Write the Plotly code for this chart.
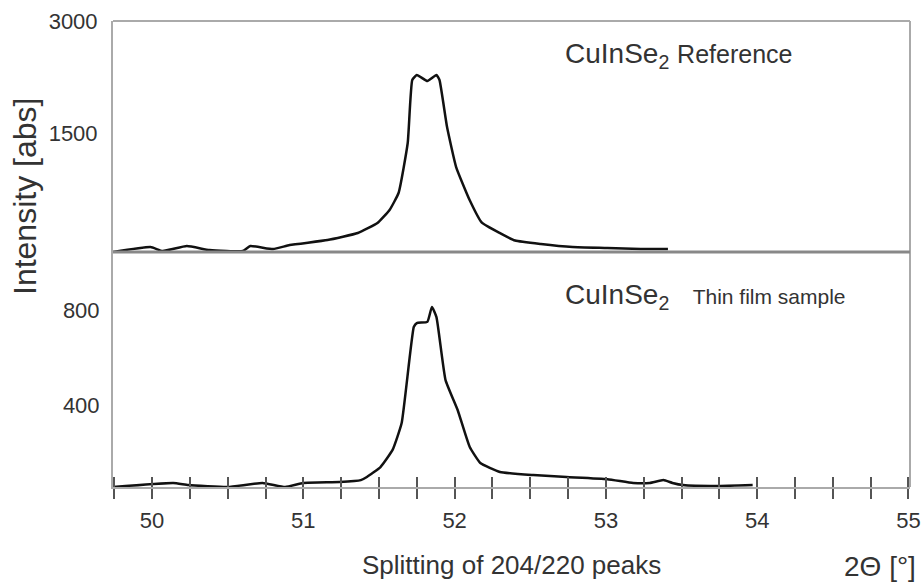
import plotly.graph_objects as go

# ---- data ----
ref_two_theta = [49.74, 49.99, 50.07, 50.23, 50.38, 50.60, 50.65, 50.80, 50.91, 51.16, 51.36,
                 51.49, 51.57, 51.63, 51.69, 51.72, 51.75, 51.82, 51.88, 51.90, 51.95, 52.01,
                 52.10, 52.18, 52.30, 52.40, 52.57, 52.78, 53.01, 53.23, 53.41]
ref_intensity = [-94, -27, -80, -13, -67, -80, -13, -54, 0, 67, 161,
                 295, 469, 700, 1366, 2210, 2277, 2196, 2277, 2210, 1580, 1045,
                 600, 300, 160, 60, 13, -27, -40, -54, -54]

film_two_theta = [49.74, 50.14, 50.24, 50.50, 50.73, 50.88, 51.00, 51.24, 51.38, 51.42, 51.51,
                  51.59, 51.65, 51.73, 51.75, 51.82, 51.85, 51.88, 51.94, 52.02, 52.10, 52.17,
                  52.30, 52.52, 52.74, 53.01, 53.18, 53.29, 53.38, 53.44, 53.51, 53.73, 53.97]
film_intensity = [55, 72, 63, 55, 72, 55, 72, 76, 84, 97, 139,
                  211, 324, 728, 745, 750, 813, 770, 505, 379, 223, 156,
                  118, 105, 97, 88, 72, 72, 84, 72, 63, 59, 63]

x_ticks = [50, 51, 52, 53, 54, 55]
top_y_ticks = [1500, 3000]
bottom_y_ticks = [400, 800]

FONT = "Liberation Sans, Arial, sans-serif"
TXT = "#333333"
AX = "#aaaaaa"
TICK = "#555555"

W, H = 922, 582
ML, MR, MT, MB = 113, 12, 21, 95
PW, PH = W - ML - MR, H - MT - MB
split = (487 - 252) / PH


def px(xp):
    return (xp - ML) / PW


def py(yp):
    return (H - MB - yp) / PH


LINE = dict(color="#111111", width=2.5, shape="spline", smoothing=0.4)

fig = go.Figure()
fig.add_trace(go.Scatter(x=ref_two_theta, y=ref_intensity, xaxis="x", yaxis="y2",
                         mode="lines", line=LINE, showlegend=False))
fig.add_trace(go.Scatter(x=film_two_theta, y=film_intensity, xaxis="x", yaxis="y",
                         mode="lines", line=LINE, showlegend=False))

xr = [49.742, 55.01]
fig.update_layout(
    width=W, height=H,
    margin=dict(l=ML, r=MR, t=MT, b=MB, autoexpand=False),
    paper_bgcolor="white", plot_bgcolor="white",
    font=dict(family=FONT, color=TXT, size=22),
    xaxis=dict(domain=[0, 1], range=xr, anchor="y", tickvals=x_ticks, automargin=False,
               ticks="outside", ticklen=10, tickwidth=1.5, tickcolor=TICK,
               minor=dict(tick0=50, dtick=0.25, ticks="outside", ticklen=10,
                          tickwidth=1.5, tickcolor=TICK),
               showline=True, linecolor=AX, linewidth=2, showgrid=False, zeroline=False,
               tickfont=dict(size=22, color=TXT), ticklabelstandoff=3),
    xaxis3=dict(overlaying="x", anchor="y", range=xr, tickmode="linear", tick0=50, dtick=0.25,
                ticks="inside", ticklen=10, tickwidth=1.5, tickcolor=TICK, automargin=False,
                showticklabels=False, showline=False, showgrid=False, zeroline=False),
    yaxis=dict(domain=[0, split], range=[55, 1044], anchor="x", tickvals=bottom_y_ticks,
               ticks="", showline=True, linecolor=AX, linewidth=2, showgrid=False,
               automargin=False, zeroline=False, tickfont=dict(size=22, color=TXT),
               ticklabelstandoff=7),
    yaxis2=dict(domain=[split, 1], range=[-93, 3000], anchor="x", tickvals=top_y_ticks,
                ticks="", showline=True, linecolor=AX, linewidth=2, showgrid=False,
                automargin=False, zeroline=False, tickfont=dict(size=22, color=TXT),
                ticklabelstandoff=9),
)
# invisible trace so the overlaid tick axis is drawn
fig.add_trace(go.Scatter(x=[52], y=[500], xaxis="x3", yaxis="y", mode="markers",
                         marker=dict(opacity=0), hoverinfo="skip", showlegend=False))

# frame and separator
fig.add_shape(type="line", xref="paper", yref="paper", x0=0, x1=1, y0=1, y1=1,
              line=dict(color=AX, width=2))
fig.add_shape(type="line", xref="paper", yref="paper", x0=1, x1=1, y0=0, y1=1,
              line=dict(color=AX, width=2))
fig.add_shape(type="line", xref="paper", yref="paper", x0=0, x1=1, y0=split, y1=split,
              line=dict(color="#888888", width=3))

ann = [
    dict(text="CuInSe<sub>2</sub> <span style='font-size:25px'>Reference</span>",
         x=px(563), y=py(55), xanchor="left", yanchor="middle", font=dict(size=28)),
    dict(text="CuInSe<sub>2</sub>   <span style='font-size:21px'>Thin film sample</span>",
         x=px(563), y=py(296), xanchor="left", yanchor="middle", font=dict(size=28)),
    dict(text="Splitting of 204/220 peaks", x=px(511), y=py(565), xanchor="center",
         yanchor="middle", font=dict(size=26)),
    dict(text="2Θ [°]", x=px(918), y=py(566), xanchor="right", yanchor="middle",
         font=dict(size=28)),
    dict(text="Intensity [abs]", x=px(25), y=py(197), xanchor="center", yanchor="middle",
         textangle=-90, font=dict(size=32)),
]
for a in ann:
    a.update(xref="paper", yref="paper", showarrow=False)
    a["font"] = dict(family=FONT, color=TXT, **a["font"])
    fig.add_annotation(**a)

fig.write_html("out.html",
               config={"displayModeBar": False},
               post_script="document.body.style.margin='0';"
                           "document.body.style.overflow='hidden';")
